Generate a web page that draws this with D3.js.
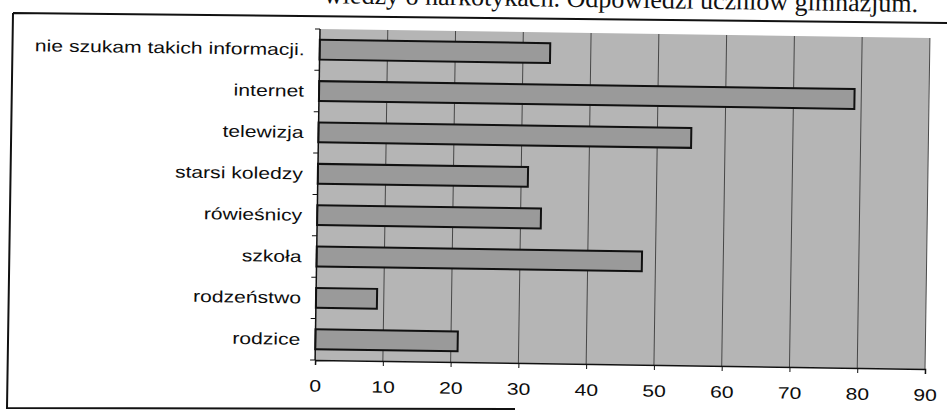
<!DOCTYPE html>
<html>
<head>
<meta charset="utf-8">
<script src="https://cdn.jsdelivr.net/npm/d3@7"></script>
<style>
  html, body { margin: 0; padding: 0; background: #fff; }
  svg { display: block; }
  .lbl { font-family: Arial, "Liberation Sans", sans-serif; font-size: 16.5px; fill: #0d0d0d; }
</style>
</head>
<body>
<svg id="chart" width="947" height="417"></svg>
<script>
const categories = [
  "nie szukam takich informacji.",
  "internet",
  "telewizja",
  "starsi koledzy",
  "rówieśnicy",
  "szkoła",
  "rodzeństwo",
  "rodzice"
];
const values = [34, 79, 55, 31, 33, 48, 9, 21];
const xTicks = [0, 10, 20, 30, 40, 50, 60, 70, 80, 90];
const caption = "wiedzy o narkotykach. Odpowiedzi uczniów gimnazjum.";

const svg = d3.select("#chart");
const margin = { top: 29, left: 320 };
const innerWidth = 610;
const innerHeight = 331;
const tilt = 0.85;
const stretch = 1.28;

// frame of the scanned page (slightly skewed)
svg.append("path")
  .attr("d", "M13,13 L947,23 M13,13 L7,408 L515,409")
  .attr("fill", "none").attr("stroke", "#111").attr("stroke-width", 2);

// caption, cut by the top edge
svg.append("text")
  .attr("transform", `rotate(${tilt}, 918, 12)`)
  .attr("x", 918).attr("y", 12)
  .attr("text-anchor", "end")
  .attr("font-family", "'Liberation Serif', 'Times New Roman', serif")
  .attr("font-size", 26)
  .attr("fill", "#111")
  .text(caption);

const g = svg.append("g")
  .attr("transform", `rotate(${tilt}, ${margin.left}, ${margin.top}) translate(${margin.left},${margin.top})`);

const x = d3.scaleLinear().domain([0, 90]).range([0, innerWidth]);
const y = d3.scaleBand().domain(categories).range([0, innerHeight]).paddingInner(0).paddingOuter(0);

// plot background
g.append("rect")
  .attr("width", innerWidth).attr("height", innerHeight)
  .attr("fill", "#b5b5b5");

// vertical gridlines
g.append("g")
  .selectAll("line")
  .data(xTicks.slice(1))
  .join("line")
  .attr("x1", d => x(d)).attr("x2", d => x(d))
  .attr("y1", 0).attr("y2", innerHeight)
  .attr("stroke", "#3a3a3a")
  .attr("stroke-width", 0.9);

// bars
const barFrac = 0.48;
g.append("g")
  .selectAll("rect")
  .data(categories)
  .join("rect")
  .attr("x", x(0))
  .attr("y", d => y(d) + y.bandwidth() * (1 - barFrac) / 2)
  .attr("width", (d, i) => x(values[i]) - x(0))
  .attr("height", y.bandwidth() * barFrac)
  .attr("fill", "#9a9a9a")
  .attr("stroke", "#111")
  .attr("stroke-width", 2);

// x axis
const xAxis = g.append("g")
  .attr("transform", `translate(0,${innerHeight})`)
  .call(d3.axisBottom(x).tickValues(xTicks).tickSize(5).tickPadding(15).tickFormat(d3.format("d")));
xAxis.select(".domain").attr("stroke", "#111").attr("stroke-width", 1.5);
xAxis.selectAll(".tick line").attr("stroke", "#111");
xAxis.selectAll(".tick text")
  .attr("class", "lbl")
  .attr("font-family", null).attr("font-size", null)
  .attr("transform", `scale(${stretch},1)`);

// y axis line and category boundary ticks
g.append("line")
  .attr("x1", 0).attr("x2", 0).attr("y1", 0).attr("y2", innerHeight)
  .attr("stroke", "#111").attr("stroke-width", 1.5);

const bounds = categories.map(c => y(c)).concat([y.range()[1]]);
g.append("g")
  .selectAll("line")
  .data(bounds)
  .join("line")
  .attr("x1", -5).attr("x2", 0)
  .attr("y1", d => d).attr("y2", d => d)
  .attr("stroke", "#111");

// category labels
g.append("g")
  .selectAll("text")
  .data(categories)
  .join("text")
  .attr("class", "lbl")
  .attr("transform", d => `translate(-15,${y(d) + y.bandwidth() / 2}) scale(${stretch},1)`)
  .attr("text-anchor", "end")
  .attr("dy", "0.35em")
  .text(d => d);
</script>
</body>
</html>
